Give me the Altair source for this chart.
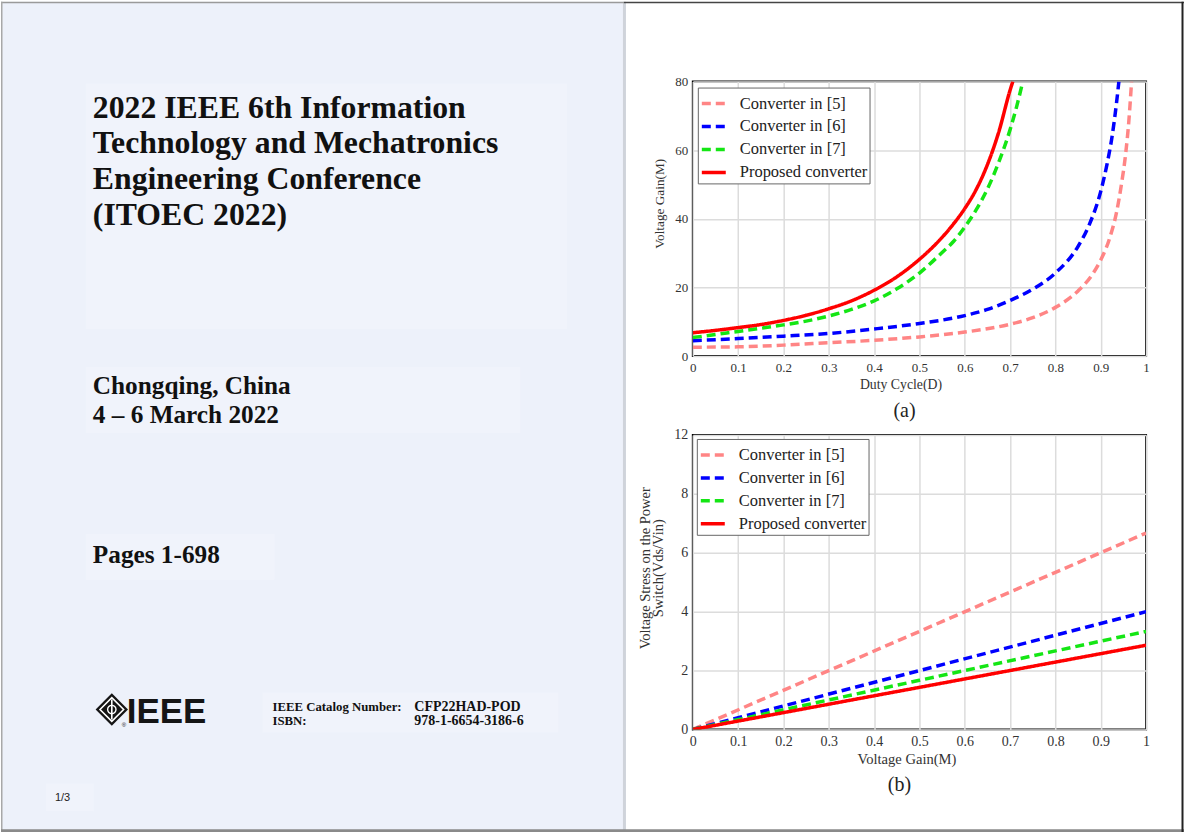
import altair as alt
import pandas as pd

SERIF = "Liberation Serif"

# ---------------- data ----------------
SERIES = ["Converter in [5]", "Converter in [6]", "Converter in [7]", "Proposed converter"]
COLORS = ["#ff8585", "#0000ff", "#14e614", "#ff0000"]
DASHES = [[9, 5], [9, 5], [9, 5], [1, 0]]

# (a) Voltage gain vs duty cycle
duty_5 = [0, .1, .2, .3, .4, .5, .6, .7, .75, .8, .85, .88, .9, .92, .935, .945, .955, .962, .968]
gain_5 = [2.6, 2.7, 3.2, 3.9, 4.6, 5.6, 7.0, 9.3, 11.2, 14.2, 19.0, 23.5, 28.0, 34.5, 42.0, 49.5, 59.0, 68.5, 80.0]
duty_6 = [0, .1, .2, .3, .4, .5, .6, .65, .7, .75, .8, .85, .875, .9, .914, .925, .935, .94]
gain_6 = [4.5, 5.1, 5.8, 6.6, 7.9, 9.5, 11.8, 13.6, 16.2, 19.5, 24.2, 32.0, 38.4, 48.0, 56.0, 64.0, 74.0, 80.0]
duty_7 = [0, .05, .1, .15, .2, .25, .3, .35, .4, .45, .5, .55, .575, .6, .625, .65, .675, .7, .715, .728]
gain_7 = [5.4, 6.3, 7.2, 8.1, 9.1, 10.2, 11.7, 13.6, 16.1, 19.6, 24.2, 30.2, 33.4, 37.6, 42.6, 48.7, 56.5, 66.0, 73.0, 80.0]
duty_p = [0, .05, .1, .15, .2, .25, .3, .35, .4, .45, .5, .525, .55, .575, .6, .625, .65, .675, .7, .706]
gain_p = [6.8, 7.5, 8.3, 9.2, 10.4, 11.9, 13.8, 16.1, 19.2, 23.1, 28.2, 31.2, 34.6, 38.5, 43.0, 48.5, 55.8, 65.3, 77.5, 80.0]

# (b) Voltage stress vs voltage gain
gain_b = [0, 0.5, 1.0]
stress_5 = [0, 3.33, 6.67]
stress_6 = [0, 2.0, 4.0]
stress_7 = [0, 1.67, 3.33]
stress_p = [0, 1.43, 2.86]

X_TICKS = [0, 0.1, 0.2, 0.3, 0.4, 0.5, 0.6, 0.7, 0.8, 0.9, 1]
YA_TICKS = [0, 20, 40, 60, 80]
YB_TICKS = [0, 2, 4, 6, 8, 10]

# cover-page text
TITLE_LINES = ["2022 IEEE 6th Information", "Technology and Mechatronics",
               "Engineering Conference", "(ITOEC 2022)"]
PLACE_LINES = ["Chongqing, China", "4 \u2013 6 March 2022"]
PAGES = "Pages 1-698"
CATALOG_KEYS = ["IEEE Catalog Number:", "ISBN:"]
CATALOG_VALS = ["CFP22HAD-POD", "978-1-6654-3186-6"]
PAGE_NO = "1/3"
CAPTIONS = ["(a)", "(b)"]


def long_df(xs_list, ys_list, xname, yname):
    rows = []
    for s, xs, ys in zip(SERIES, xs_list, ys_list):
        for i, (x, y) in enumerate(zip(xs, ys)):
            rows.append({"series": s, xname: x, yname: y, "i": i})
    return pd.DataFrame(rows)


df_a = long_df([duty_5, duty_6, duty_7, duty_p], [gain_5, gain_6, gain_7, gain_p], "D", "M")
df_b = long_df([gain_b] * 4, [stress_5, stress_6, stress_7, stress_p], "M", "S")
one = pd.DataFrame({"k": [0]})


def legend(lx, ly):
    return alt.Legend(title=None, orient="none", legendX=lx, legendY=ly,
                      symbolType="stroke", symbolSize=576, symbolStrokeWidth=3.5,
                      labelFont=SERIF, labelFontSize=16.5, labelColor="#222",
                      fillColor="white", strokeColor="#666", padding=2,
                      rowPadding=-6.3, labelOffset=12, cornerRadius=0, labelLimit=0)


def color_enc(lx, ly):
    return alt.Color("series:N", scale=alt.Scale(domain=SERIES, range=COLORS), legend=legend(lx, ly))


def dash_enc(lx, ly):
    return alt.StrokeDash("series:N", scale=alt.Scale(domain=SERIES, range=DASHES), legend=legend(lx, ly))


def x_axis(title, size, tsize, tx):
    return alt.Axis(values=X_TICKS, format="~g", grid=True, ticks=False, tickSize=0, domain=False,
                    labelFont=SERIF, labelFontSize=size, labelColor="#333", labelPadding=5,
                    labelOverlap=False, labelFlush=False,
                    gridColor="#dcdcdc", gridWidth=1.5,
                    title=title, titleFont=SERIF, titleFontSize=tsize, titleFontWeight="normal",
                    titleColor="#333", titlePadding=3, titleX=tx, titleAlign="center")


def y_axis(title, values, size, tsize, tpad, ty, label_expr=None):
    kw = dict(values=values, grid=True, ticks=False, tickSize=0, domain=False,
              labelFont=SERIF, labelFontSize=size, labelColor="#333", labelPadding=5,
              labelOverlap=False, labelFlush=False,
              gridColor="#dcdcdc", gridWidth=1.5,
              title=title, titleFont=SERIF, titleFontSize=tsize, titleFontWeight="normal",
              titleColor="#333", titlePadding=tpad, titleLineHeight=13, titleY=ty,
              titleAlign="center")
    if label_expr:
        kw["labelExpr"] = label_expr
    return alt.Axis(**kw)


frame = alt.ViewBackground(stroke="black", strokeWidth=2)

lines_a = alt.Chart(df_a).mark_line(strokeWidth=3.5, interpolate="monotone", clip=True).encode(
    x=alt.X("D:Q", scale=alt.Scale(domain=[0, 1], nice=False),
            axis=x_axis("Duty Cycle(D)", 13, 13.8, 208)),
    y=alt.Y("M:Q", scale=alt.Scale(domain=[0, 80], nice=False),
            axis=y_axis("Voltage Gain(M)", YA_TICKS, 13, 13.3, 8, 122)),
    color=color_enc(5, 6), strokeDash=dash_enc(5, 6), order="i:Q",
)
cap_a = alt.Chart(one).mark_text(text=CAPTIONS[0], font=SERIF, fontSize=20, color="#222").encode(
    x=alt.value(212), y=alt.value(330))
chart_a = alt.layer(lines_a, cap_a).properties(width=454, height=275, view=frame)

lines_b = alt.Chart(df_b).mark_line(strokeWidth=3.5, clip=True).encode(
    x=alt.X("M:Q", scale=alt.Scale(domain=[0, 1], nice=False),
            axis=x_axis("Voltage Gain(M)", 14, 14.6, 214)),
    y=alt.Y("S:Q", scale=alt.Scale(domain=[0, 10], nice=False),
            axis=y_axis(["Voltage Stress on the Power", "Switch(Vds/Vin)"], YB_TICKS, 14, 14.5, 8, 133,
                        "datum.value == 10 ? '12' : datum.label")),
    color=color_enc(4, 4), strokeDash=dash_enc(4, 4), order="i:Q",
)
cap_b = alt.Chart(one).mark_text(text=CAPTIONS[1], font=SERIF, fontSize=20, color="#222").encode(
    x=alt.value(207), y=alt.value(351))
chart_b = alt.layer(lines_b, cap_b).properties(width=454, height=295, view=frame)

spacer = alt.Chart(one).mark_point(opacity=0, size=0).encode(
    x=alt.value(200), y=alt.value(30)).properties(width=454, height=1)

right = alt.vconcat(spacer, chart_a, chart_b, spacing=79, bounds="flush").resolve_scale(
    color="independent", strokeDash="independent")


# ---------------- cover page (left) ----------------
def rect(x, x2, y, y2, fill):
    return alt.Chart(one).mark_rect(fill=fill).encode(
        x=alt.value(x), x2=alt.value(x2), y=alt.value(y), y2=alt.value(y2))


def txt(s, x, y, size, weight="bold", font=SERIF, color="#111", align="left"):
    return alt.Chart(one).mark_text(text=s, font=font, fontSize=size, fontWeight=weight,
                                    color=color, align=align, baseline="alphabetic").encode(
        x=alt.value(x), y=alt.value(y))


layers = [
    rect(0, 624, 0, 832, "#edf1fa"),
    rect(85, 567, 82, 328, "#f0f3fb"),
    rect(85, 520, 366, 432, "#f0f3fb"),
    rect(85, 274, 533, 579, "#f0f3fb"),
    rect(262, 558, 692, 732, "#f0f3fb"),
    rect(45, 93, 783, 811, "#f0f3fb"),
    rect(623, 626, 0, 832, "#cfd3da"),
    rect(0, 624, 0, 1.5, "#9a9a9a"),
    rect(624, 1185, 0, 1.5, "#444444"),
    rect(0, 1.5, 0, 832, "#a8a8a8"),
    rect(0, 1185, 829, 832, "#8a8a8a"),
    rect(1182.5, 1184.5, 0, 832, "#222222"),
]
for line, yb in zip(TITLE_LINES, [116.5, 152, 188, 223.5]):
    layers.append(txt(line, 92, yb, 31.8))
for line, yb in zip(PLACE_LINES, [393, 422]):
    layers.append(txt(line, 92, yb, 25.3))
layers.append(txt(PAGES, 92, 562, 25.3))
for k, v, yb in zip(CATALOG_KEYS, CATALOG_VALS, [710.5, 725]):
    layers.append(txt(k, 272, yb, 12.8))
    layers.append(txt(v, 414, yb, 14))
layers.append(txt(PAGE_NO, 54, 801, 11, weight="normal", font="Liberation Sans", color="#222"))

# IEEE logo
layers.append(alt.Chart(one).mark_point(shape="diamond", filled=True, fill="#151515", size=1050,
                                        opacity=1).encode(x=alt.value(111), y=alt.value(709)))
layers.append(alt.Chart(one).mark_point(shape="diamond", filled=False, stroke="white", strokeWidth=1.6,
                                        size=560, opacity=1).encode(x=alt.value(111), y=alt.value(709)))
layers.append(alt.Chart(one).mark_point(shape="circle", filled=False, stroke="white", strokeWidth=1.4,
                                        size=70, opacity=1).encode(x=alt.value(111), y=alt.value(709)))
layers.append(alt.Chart(one).mark_rule(stroke="white", strokeWidth=1.6).encode(
    x=alt.value(111), y=alt.value(699), y2=alt.value(719)))
layers.append(txt("\u00ae", 121, 727, 6, weight="normal", font="Liberation Sans"))
layers.append(txt("IEEE", 126, 723, 35, font="Liberation Sans", color="#151515"))

left = alt.layer(*layers).properties(width=624, height=832)

chart = alt.hconcat(left, right, spacing=69, bounds="flush").properties(
    padding=0, background="white"
).configure_view(stroke="transparent")

chart.save("out.html", embed_options={"renderer": "svg", "actions": False})
